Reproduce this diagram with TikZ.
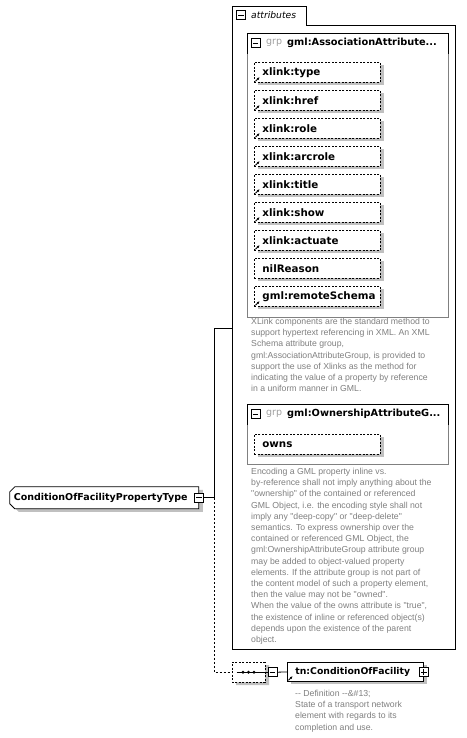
\documentclass[tikz,border=0pt]{standalone}
\usepackage{fontspec}
\setmainfont{DejaVu Sans}
\newfontfamily\notefont{Liberation Sans}
\usetikzlibrary{shapes.misc,shadows,arrows.meta,positioning}
\definecolor{notegray}{RGB}{128,128,128}
\definecolor{grpgray}{RGB}{160,160,160}
\definecolor{shadegray}{RGB}{192,192,192}
\definecolor{bodygray}{RGB}{128,128,128}
\tikzset{
  wire/.style={line width=.8pt},
  castshadow/.style={drop shadow={shadow xshift=4pt,shadow yshift=-3pt,fill=shadegray,opacity=1}},
  attr/.style={draw,wire,dash pattern=on 2pt off 1.5pt,fill=white,castshadow,anchor=north west,
    minimum height=20,inner xsep=8,text width=110,align=left,font=\bfseries\fontsize{10.3}{12}\selectfont},
  togglebox/.style={draw,wire,fill=white,minimum size=9,inner sep=0},
  minus/.style={togglebox,path picture={\draw[wire] ([xshift=1.8]path picture bounding box.west) -- ([xshift=-1.8]path picture bounding box.east);}},
  plus/.style={togglebox,path picture={\draw[wire] ([xshift=1.8]path picture bounding box.west) -- ([xshift=-1.8]path picture bounding box.east);
    \draw[wire] ([yshift=-1.8]path picture bounding box.north) -- ([yshift=1.8]path picture bounding box.south);}},
  note/.style={anchor=north west,inner sep=0,align=left,text=notegray,font=\notefont\fontsize{8.7}{11.2}\selectfont},
  grptag/.style={anchor=west,inner sep=0,text=grpgray,font=\fontsize{9.5}{11}\selectfont},
  grpname/.style={anchor=west,inner sep=0,font=\bfseries\fontsize{9.8}{12}\selectfont},
  refarrow/.style={-{Latex[length=2.6pt,width=2.8pt]},line width=.9pt},
}
\begin{document}
\begin{tikzpicture}[x=1pt,y=-1pt]
\useasboundingbox[fill=white] (0,0) rectangle (466,738);
% attributes container
\draw[wire] (232,649) -- (232,6) -- (306,6) -- (306,25) -- (455,25) -- (455,649) -- cycle;
\node[minus] (attrminus) at (241,15) {};
\node[anchor=west,inner sep=0,font=\itshape\fontsize{9.2}{11}\selectfont] (attrlabel) at (251,15) {attributes};
\coordinate (attrsin) at (232,328);
% group AssociationAttributeGroup
\draw[wire,bodygray] (247,54) -- (247,317) -- (448,317) -- (448,54);
\draw[wire] (247,54) |- (448,33) -- (448,54);
\node[minus] (g1minus) at (255.5,43) {};
\node[grptag] (g1tag) at (266,43) {grp};
\node[grpname] (g1name) at (287,43) {gml:AssociationAttribute...};
\foreach \name [count=\i] in {xlink:type,xlink:href,xlink:role,xlink:arcrole,xlink:title,xlink:show,xlink:actuate,nilReason,gml:remoteSchema}
  \node[attr] (a\i) at (254,{62+28*(\i-1)}) {\name};
\foreach \i in {1,...,7,9}
  \draw[refarrow] ([shift={(1.5,-1.5)}]a\i.south west) -- ++(4,-4);
\node[note] (g1note) at (251,318) {XLink components are the standard method to\\support hypertext referencing in XML. An XML\\Schema attribute group,\\gml:AssociationAttributeGroup, is provided to\\support the use of Xlinks as the method for\\indicating the value of a property by reference\\in a uniform manner in GML.};
% group OwnershipAttributeGroup
\draw[wire,bodygray] (247,425) -- (247,464) -- (448,464) -- (448,425);
\draw[wire] (247,425) |- (448,404) -- (448,425);
\node[minus] (g2minus) at (255.5,414) {};
\node[grptag] (g2tag) at (266,414) {grp};
\node[grpname] (g2name) at (287,414) {gml:OwnershipAttributeG...};
\node[attr] (owns) at (254,434) {owns};
\node[note] (g2note) at (251,468) {Encoding a GML property inline vs.\\by-reference shall not imply anything about the\\"ownership" of the contained or referenced\\GML Object, i.e. the encoding style shall not\\imply any "deep-copy" or "deep-delete"\\semantics. To express ownership over the\\contained or referenced GML Object, the\\gml:OwnershipAttributeGroup attribute group\\may be added to object-valued property\\elements. If the attribute group is not part of\\the content model of such a property element,\\then the value may not be "owned".\\When the value of the owns attribute is "true",\\the existence of inline or referenced object(s)\\depends upon the existence of the parent\\object.};
% complex type
\node[draw,wire,fill=white,castshadow,chamfered rectangle,chamfered rectangle corners={north west,south west},
  chamfered rectangle sep=2.5pt,anchor=north west,minimum height=22,inner xsep=1.5,text width=181,align=left,
  font=\bfseries\fontsize{9.5}{11}\selectfont] (cofpt) at (12,489) {ConditionOfFacilityPropertyType};
\node[minus] (cofptminus) at (cofpt.east) {};
\draw[wire] (cofptminus.east) -- ++(10,0) coordinate (fork);
\draw[wire] (fork) |- (attrsin);
% sequence
\node[draw,wire,dash pattern=on 2pt off 1.5pt,fill=white,castshadow,chamfered rectangle,chamfered rectangle sep=3.5pt,
  anchor=north west,minimum width=33,minimum height=20,inner sep=0] (seq) at (232,662) {};
\draw[wire,dash pattern=on 2pt off 2pt] (fork) |- (seq.west);
\node[minus] (seqminus) at ([xshift=7]seq.east) {};
\draw[wire] ([xshift=5]seq.west) -- (seqminus.west);
\foreach \dx in {-5.5,0,5.5} \fill ([xshift=\dx]seq.center) circle (1.7);
% element
\node[draw,wire,fill=white,castshadow,anchor=north west,minimum width=136,minimum height=19,inner xsep=8,
  text width=120,align=left,font=\bfseries\fontsize{9.3}{11}\selectfont] (cof) at (287,662) {tn:ConditionOfFacility};
\draw[wire] (seqminus.east) -- (cof.west);
\node[plus] (cofplus) at (cof.east) {};
\draw[refarrow] ([shift={(1.5,-1.5)}]cof.south west) -- ++(4,-4);
\node[note] (cofnote) at (295,690) {-- Definition --\&\#13;\\State of a transport network\\element with regards to its\\completion and use.};
\end{tikzpicture}
\end{document}
